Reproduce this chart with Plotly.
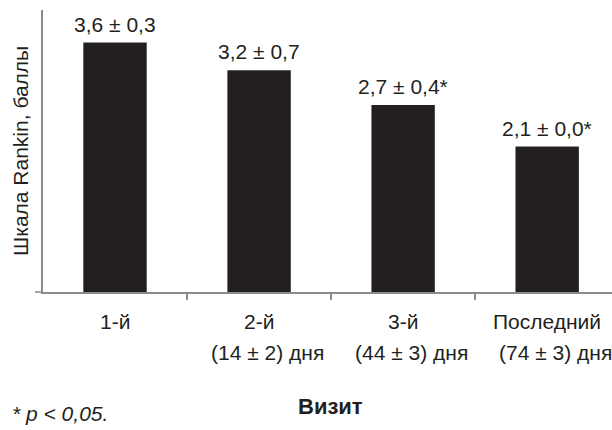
import plotly.graph_objects as go

# Rankin scale score by visit
visits = ["1-й", "2-й", "3-й", "Последний"]
intervals = ["", "(14 ± 2) дня", "(44 ± 3) дня", "(74 ± 3) дня"]
means = [3.6, 3.2, 2.7, 2.1]
sds = [0.3, 0.7, 0.4, 0.0]
significant = [False, False, True, True]

INK = "#231f20"
AXIS = "#8a8a8a"
FONT = "Liberation Sans, Arial, sans-serif"

W, H = 612, 430
M_L, M_R, M_T, M_B = 43, 0, 10, 138
plot_w = W - M_L - M_R

x_pos = list(range(len(visits)))

fig = go.Figure()
fig.add_trace(go.Bar(
    x=x_pos, y=means, width=0.44,
    marker=dict(color=INK, line=dict(width=0)),
    hoverinfo="skip",
))

annotations = []
# value labels above bars
for i, (m, s, sig) in enumerate(zip(means, sds, significant)):
    txt = f"{m:.1f} ± {s:.1f}".replace(".", ",") + ("*" if sig else "")
    annotations.append(dict(
        x=i, y=m, xref="x", yref="y", text=txt, showarrow=False,
        xanchor="center", yanchor="bottom", yshift=5,
        font=dict(family=FONT, size=21, color=INK),
    ))
# category labels under the axis (two lines)
for i, (v, d) in enumerate(zip(visits, intervals)):
    annotations.append(dict(
        x=i, y=0, xref="x", yref="paper", text=v, showarrow=False,
        xanchor="center", yanchor="middle", yshift=-29,
        font=dict(family=FONT, size=21, color=INK),
    ))
    if d:
        annotations.append(dict(
            x=i, y=0, xref="x", yref="paper", text=d, showarrow=False,
            xanchor="center", yanchor="middle", yshift=-60, xshift=8,
            font=dict(family=FONT, size=21, color=INK),
        ))
# axis titles and footnote
annotations.append(dict(
    x=(20 - M_L) / plot_w, y=0.5, xref="paper", yref="paper",
    text="Шкала Rankin, баллы", textangle=-90, showarrow=False,
    xanchor="center", yanchor="middle",
    font=dict(family=FONT, size=21, color=INK),
))
annotations.append(dict(
    x=(330 - M_L) / plot_w, y=0, xref="paper", yref="paper",
    text="<b>Визит</b>", showarrow=False,
    xanchor="center", yanchor="middle", yshift=-(406 - 292),
    font=dict(family=FONT, size=22, color=INK),
))
annotations.append(dict(
    x=(10 - M_L) / plot_w, y=0, xref="paper", yref="paper",
    text="<i>* p < 0,05.</i>", showarrow=False,
    xanchor="left", yanchor="middle", yshift=-(413 - 292),
    font=dict(family=FONT, size=21, color=INK),
))

fig.update_layout(
    width=W, height=H,
    margin=dict(l=M_L, r=M_R, t=M_T, b=M_B, pad=0),
    paper_bgcolor="white", plot_bgcolor="white",
    showlegend=False,
    annotations=annotations,
    shapes=[dict(
        type="line", xref="paper", yref="paper",
        x0=-8 / plot_w, x1=0, y0=0, y1=0,
        line=dict(color=AXIS, width=1.5),
    )],
    xaxis=dict(
        range=[-0.5, 3.45], showgrid=False, zeroline=False,
        showline=True, linecolor=AXIS, linewidth=1.5,
        tickmode="array", tickvals=[0.5, 1.5, 2.5], ticktext=["", "", ""],
        ticks="outside", ticklen=6, tickcolor=AXIS, tickwidth=1.5,
        fixedrange=True,
    ),
    yaxis=dict(
        range=[0, 4.07], showgrid=False, zeroline=False,
        showline=True, linecolor=AXIS, linewidth=1.5,
        showticklabels=False, ticks="",
        fixedrange=True,
    ),
)

fig.write_html("out.html")
